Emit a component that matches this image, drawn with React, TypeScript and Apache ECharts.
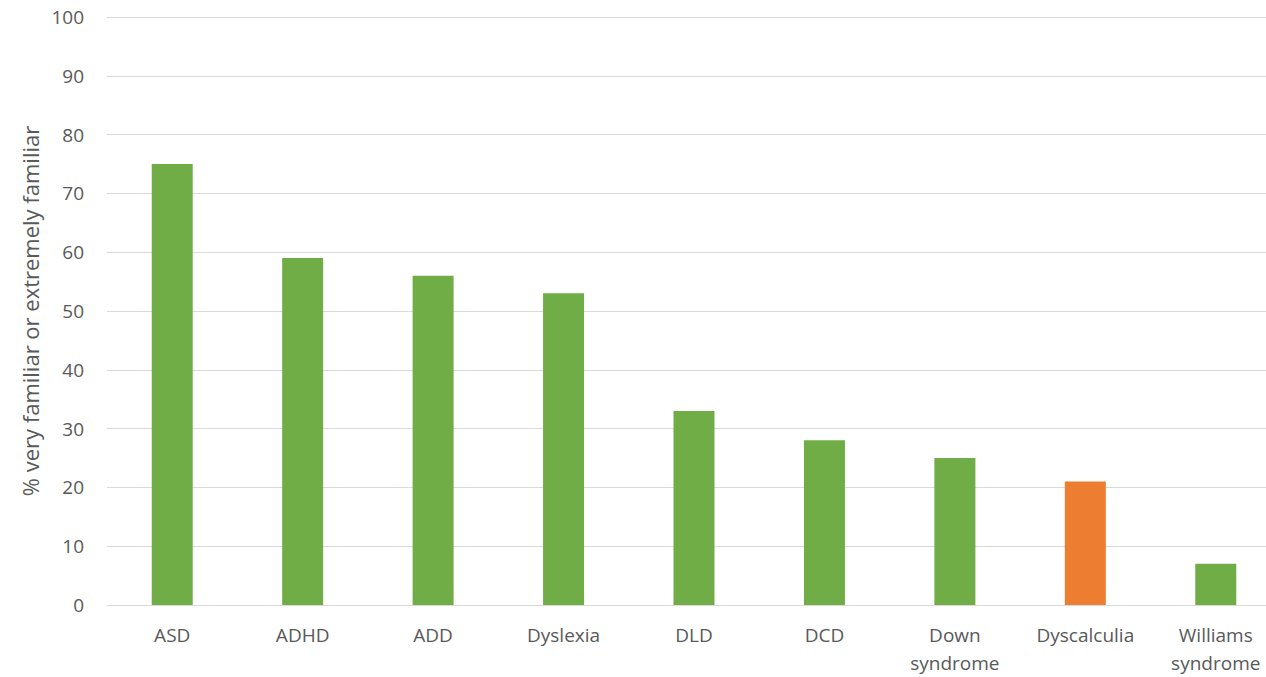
import React, { useEffect, useRef } from "react";
import * as echarts from "echarts";

const categories = ["ASD", "ADHD", "ADD", "Dyslexia", "DLD", "DCD", "Down\nsyndrome", "Dyscalculia", "Williams\nsyndrome"];
const values = [75, 59, 56, 53, 33, 28, 25, 21, 7];
const highlighted = ["Dyscalculia"];
const yTicks = { min: 0, max: 100, interval: 10 };
const yTitle = "% very familiar or extremely familiar";

const GREEN = "#70AD47";
const ORANGE = "#ED7D31";

export default function App() {
  const ref = useRef<HTMLDivElement>(null);
  useEffect(() => {
    if (!ref.current) return;
    const chart = echarts.init(ref.current, null, { renderer: "svg" });
    const font = "'Open Sans', 'Liberation Sans', sans-serif";
    chart.setOption({
      animation: false,
      grid: { left: 107, right: 1, top: 17, bottom: 72, containLabel: false },
      xAxis: {
        type: "category",
        data: categories,
        axisLine: { show: true, lineStyle: { color: "#D9D9D9", width: 1 } },
        axisTick: { show: false },
        axisLabel: {
          color: "#595959",
          fontSize: 19,
          fontFamily: font,
          margin: 16,
          lineHeight: 28,
          interval: 0,
        },
      },
      yAxis: {
        type: "value",
        min: yTicks.min,
        max: yTicks.max,
        interval: yTicks.interval,
        name: yTitle,
        nameLocation: "middle",
        nameGap: 66,
        nameTextStyle: { color: "#595959", fontSize: 22, fontFamily: font },
        axisLine: { show: false },
        axisTick: { show: false },
        splitLine: { lineStyle: { color: "#D9D9D9", width: 1 } },
        axisLabel: { color: "#595959", fontSize: 19, fontFamily: font, margin: 23 },
      },
      series: [
        {
          type: "bar",
          barWidth: 41,
          data: values.map((v, i) => ({
            value: v,
            itemStyle: { color: highlighted.includes(categories[i]) ? ORANGE : GREEN },
          })),
        },
      ],
    });
    return () => chart.dispose();
  }, []);
  return (
    <div style={{ position: "fixed", left: 0, top: 0, width: 1266, height: 677, overflow: "hidden", background: "#fff" }}>
      <div ref={ref} style={{ width: 1282, height: 677 }} />
    </div>
  );
}
